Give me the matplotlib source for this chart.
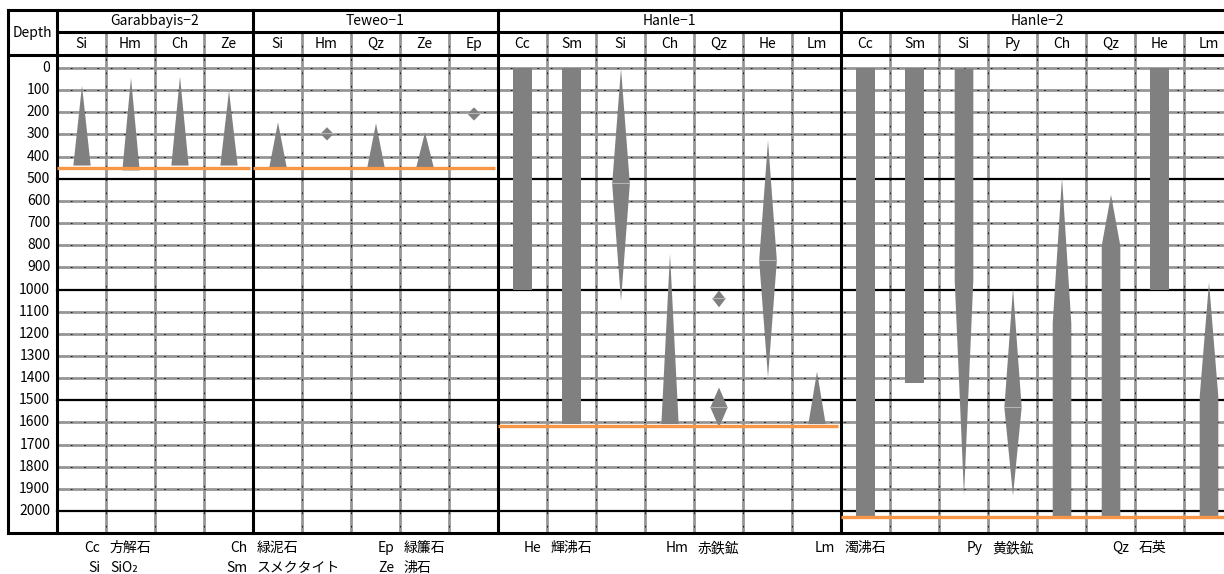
import matplotlib.pyplot as plt

plt.rcParams['font.family'] = ['Noto Sans CJK JP', 'DejaVu Sans']

# groups (wells) and their mineral columns
group_names = ["Garabbayis−2", "Teweo−1", "Hanle−1", "Hanle−2"]

garabbayis_minerals = ["Si", "Hm", "Ch", "Ze"]
garabbayis_depths = [[77, 438], [42, 460], [36, 438], [100, 438]]
garabbayis_widths = [[0, 0.93], [0, 0.93], [0, 0.93], [0, 0.93]]

teweo_minerals = ["Si", "Hm", "Qz", "Ze", "Ep"]
teweo_depths = [[243, 445], [265, 295, 325], [248, 445], [288, 445], [175, 205, 235]]
teweo_widths = [[0, 0.93], [0, 0.7, 0], [0, 0.93], [0, 0.93], [0, 0.7, 0]]

hanle1_minerals = ["Cc", "Sm", "Si", "Ch", "Qz", "He", "Lm"]
hanle1_depths = [[0, 1000], [0, 1605], [0, 520, 1050], [836, 1605],
                 [1002, 1040, 1078, 1440, 1530, 1620], [325, 867, 1395], [1368, 1605]]
hanle1_widths = [[1, 1], [1, 1], [0, 0.95, 0], [0, 0.93],
                 [0, 0.7, 0, 0, 0.93, 0], [0, 0.95, 0], [0, 0.93]]

hanle2_minerals = ["Cc", "Sm", "Si", "Py", "Ch", "Qz", "He", "Lm"]
hanle2_depths = [[0, 2020], [0, 1422], [0, 957, 1928], [993, 1530, 1928],
                 [492, 1150, 2020], [570, 800, 2020], [0, 1000], [965, 1480, 2020]]
hanle2_widths = [[1, 1], [1, 1], [1, 1, 0], [0, 0.93, 0],
                 [0, 1, 1], [0, 1, 1], [1, 1], [0, 1, 1]]

# orange line = bottom of each well
well_bottoms = [450, 450, 1616, 2027]

depth_ticks = list(range(0, 2001, 100))

legend_row1 = [("Cc", "方解石"), ("Ch", "緑泥石"), ("Ep", "緑簾石"), ("He", "輝沸石"),
               ("Hm", "赤鉄鉱"), ("Lm", "濁沸石"), ("Py", "黄鉄鉱"), ("Qz", "石英")]
legend_row2 = [("Si", "SiO₂"), ("Sm", "スメクタイト"), ("Ze", "沸石")]

groups = [
    (garabbayis_minerals, garabbayis_depths, garabbayis_widths),
    (teweo_minerals, teweo_depths, teweo_widths),
    (hanle1_minerals, hanle1_depths, hanle1_widths),
    (hanle2_minerals, hanle2_depths, hanle2_widths),
]

fig = plt.figure(figsize=(12.24, 5.74), dpi=100)
ax = fig.add_axes([0, 0, 1, 1])
ax.set_xlim(-57 / 49, 23.816)
ax.set_ylim(2284, -307)
ax.axis("off")

# table geometry (x in column units, y in depth units)
top, row_sep, head_bottom, bottom = -262, -162, -59, 2099
right = 25
half_w = 0.19
grey = "#969696"

# horizontal grid
for d in depth_ticks:
    if d % 500 == 0 and d > 0:
        ax.plot([0, right], [d, d], color="black", lw=1.6, zorder=2)
    else:
        ax.plot([0, right], [d, d], color=grey, lw=2.0, zorder=1)
        ax.plot([0, right], [d, d], color="black", lw=0.6, dashes=(2, 14), zorder=1.5)

# vertical lines
col = 0
group_edges = [0]
for minerals, _, _ in groups:
    for i in range(1, len(minerals)):
        x = col + i
        ax.plot([x, x], [row_sep, bottom], color=grey, lw=2.0, zorder=1)
        ax.plot([x, x], [row_sep, bottom], color="black", lw=0.6, dashes=(2, 14), zorder=1.5)
    col += len(minerals)
    group_edges.append(col)

for x in group_edges:
    ax.plot([x, x], [top, bottom], color="black", lw=2.2, zorder=4)
ax.plot([-1, -1], [top, bottom], color="black", lw=2.2, zorder=4)
ax.plot([-1, right], [top, top], color="black", lw=2.2, zorder=4)
ax.plot([0, right], [row_sep, row_sep], color="black", lw=2.2, zorder=4)
ax.plot([-1, right], [head_bottom, head_bottom], color="black", lw=2.2, zorder=4)
ax.plot([-1, right], [bottom, bottom], color="black", lw=2.2, zorder=4)

# header text
ax.text(-0.5, -158, "Depth", ha="center", va="center", fontsize=10)
for d in depth_ticks:
    ax.text(-0.14, d, str(d), ha="right", va="center", fontsize=10)

for g, (minerals, depths, widths) in enumerate(groups):
    x0 = group_edges[g]
    x1 = group_edges[g + 1]
    ax.text((x0 + x1) / 2, -212, group_names[g], ha="center", va="center", fontsize=10)
    for i, m in enumerate(minerals):
        cx = x0 + i + 0.5
        ax.text(cx, -108, m, ha="center", va="center", fontsize=10)
        ds = depths[i]
        ws = [w * half_w for w in widths[i]]
        ax.fill_betweenx(ds, [cx - w for w in ws], [cx + w for w in ws],
                         color="#808080", lw=0, zorder=3)
        for j in range(1, len(ds) - 1):
            if widths[i][j] > widths[i][j - 1] and widths[i][j] > widths[i][j + 1]:
                ax.plot([cx - ws[j], cx + ws[j]], [ds[j], ds[j]],
                        color="#b5b5b5", lw=0.8, zorder=3.2)
    ax.plot([x0, x1 - 0.06 if g < 3 else x1], [well_bottoms[g], well_bottoms[g]],
            color="#f79646", lw=2.4, zorder=5, solid_capstyle="butt")

# legend below the table
for items, y in [(legend_row1, 2167), (legend_row2, 2257)]:
    for k, (abbr, name) in enumerate(items):
        x = 1 + 3 * k
        ax.text(x - 0.12, y, abbr, ha="right", va="center", fontsize=10)
        ax.text(x + 0.08, y, name, ha="left", va="center", fontsize=10)

fig.savefig("out.png", dpi=100)
